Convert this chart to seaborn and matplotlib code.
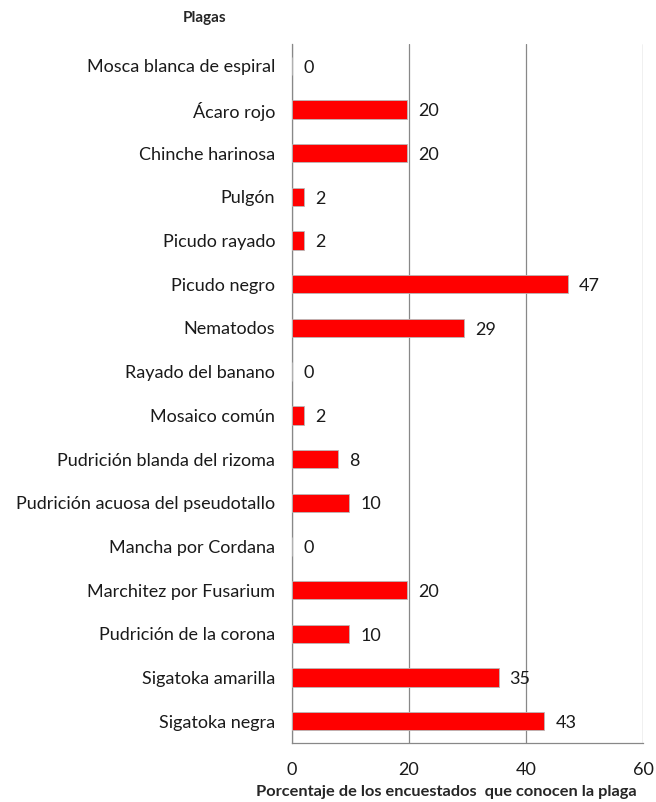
import numpy as np
import pandas as pd
import matplotlib.pyplot as plt
import seaborn as sns

plagas = ["Mosca blanca de espiral", "Ácaro rojo", "Chinche harinosa", "Pulgón",
          "Picudo rayado", "Picudo negro", "Nematodos", "Rayado del banano",
          "Mosaico común", "Pudrición blanda del rizoma",
          "Pudrición acuosa del pseudotallo", "Mancha por Cordana",
          "Marchitez por Fusarium", "Pudrición de la corona",
          "Sigatoka amarilla", "Sigatoka negra"]
porcentaje = [0, 19.6, 19.6, 2.0, 2.0, 47.1, 29.4, 0, 2.0, 7.8, 9.8, 0,
              19.6, 9.8, 35.3, 43.1]
etiquetas = ["0", "20", "20", "2", "2", "47", "29", "0", "2", "8", "10", "0",
             "20", "10", "35", "43"]

df = pd.DataFrame({"plaga": plagas, "pct": porcentaje})

sns.set_style("white")
plt.rcParams["font.family"] = ["Lato", "DejaVu Sans"]

fig = plt.figure(figsize=(6.56, 8.02), dpi=100)
ax = fig.add_axes([292 / 656, 1 - 743 / 802, 351 / 656, 699 / 802])

sns.barplot(data=df, x="pct", y="plaga", color="#ff0000", width=0.42,
            edgecolor="#b8b8b8", linewidth=0.6, saturation=1, ax=ax, zorder=3)

for i, lab in enumerate(etiquetas):
    ax.text(porcentaje[i] + 1.9, i + 0.04, lab, va="center", ha="left",
            fontsize=13, color="#1a1a1a")

ax.set_xlim(0, 60)
ax.set_ylim(len(plagas) - 0.5, -0.5)
ax.set_xticks([0, 20, 40, 60])
ax.tick_params(axis="x", labelsize=13, length=5, direction="out",
               color="#888888", pad=9, labelcolor="#1a1a1a")
ax.set_yticks(np.arange(len(plagas)))
ax.set_yticklabels(plagas)
ax.tick_params(axis="y", labelsize=13, length=0, pad=12, labelcolor="#1a1a1a")
# tick marks between categories
ax.set_yticks(np.arange(len(plagas) + 1) - 0.5, minor=True)
ax.tick_params(axis="y", which="minor", length=5, color="#888888", direction="out")

ax.grid(axis="x", color="#888888", linewidth=0.9, zorder=0)
ax.grid(axis="y", visible=False)
for s in ["top", "right"]:
    ax.spines[s].set_visible(False)
for s in ["left", "bottom"]:
    ax.spines[s].set_color("#888888")
    ax.spines[s].set_linewidth(0.9)

ax.set_xlabel("")
ax.set_ylabel("")
fig.text(446 / 656, 1 - 792 / 802, "Porcentaje de los encuestados  que conocen la plaga",
         fontsize=11.8, fontweight="bold", ha="center", va="center")
fig.text(205 / 656, 1 - 18 / 802, "Plagas", fontsize=11, fontweight="bold",
         ha="center", va="center")

fig.savefig("out.png", dpi=100)
